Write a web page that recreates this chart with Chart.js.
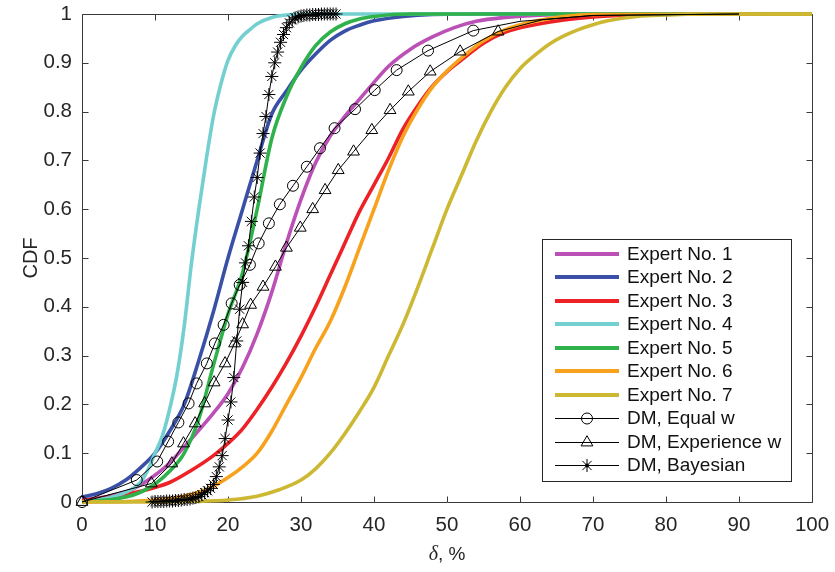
<!DOCTYPE html>
<html><head><meta charset="utf-8">
<script src="https://cdn.jsdelivr.net/npm/chart.js@4.4.1/dist/chart.umd.min.js"></script>
<style>html,body{margin:0;padding:0;background:#fff;}</style>
</head><body>
<canvas id="c" width="835" height="572"></canvas>
<script>
// ---------- data ----------
const xTickLabels = ['0','10','20','30','40','50','60','70','80','90','100'];
const yTickLabels = ['0','0.1','0.2','0.3','0.4','0.5','0.6','0.7','0.8','0.9','1'];
const seriesNames = ['Expert No. 1','Expert No. 2','Expert No. 3','Expert No. 4','Expert No. 5','Expert No. 6','Expert No. 7','DM, Equal w','DM, Experience w','DM, Bayesian'];

const x1 = [0,3,6,8,10,12,14,16,18,20,22,24,26,28,30,32,34,36,38,40,42,45,48,51,54,58,62,66,70,80,100];
const y1 = [0.004,0.01,0.02,0.035,0.055,0.08,0.113,0.147,0.182,0.222,0.276,0.345,0.43,0.53,0.62,0.695,0.75,0.79,0.825,0.86,0.893,0.928,0.953,0.972,0.985,0.993,0.997,0.999,1,1,1];

const x2 = [0,2,4,6,8,10,12,14,16,18,20,22,24,26,28,30,32,34,36,38,40,44,48,55,100];
const y2 = [0.01,0.017,0.028,0.045,0.07,0.1,0.145,0.2,0.29,0.39,0.5,0.6,0.7,0.795,0.842,0.885,0.918,0.946,0.965,0.977,0.986,0.995,0.999,1,1];

const x3 = [0,4,8,12,15,18,20,22,24,26,28,30,32,34,36,38,40,42,44,46,48,50,52,55,58,62,66,70,75,80,100];
const y3 = [0.003,0.01,0.022,0.04,0.065,0.095,0.12,0.15,0.19,0.235,0.285,0.34,0.4,0.465,0.53,0.595,0.65,0.705,0.765,0.812,0.852,0.882,0.906,0.94,0.963,0.978,0.988,0.994,0.998,1,1];

const x4 = [0,2,4,6,8,9,10,11,12,13,14,15,16,17,18,19,20,21,22,23,24,26,28,32,100];
const y4 = [0,0.004,0.01,0.02,0.04,0.065,0.1,0.135,0.19,0.26,0.36,0.49,0.6,0.7,0.79,0.855,0.905,0.935,0.955,0.968,0.98,0.993,0.998,1,1];

const x5 = [0,4,6,8,10,12,14,16,18,20,22,24,26,28,30,32,34,36,38,40,45,100];
const y5 = [0,0.005,0.01,0.02,0.037,0.063,0.1,0.17,0.28,0.385,0.47,0.6,0.745,0.83,0.89,0.935,0.963,0.98,0.99,0.995,1,1];

const x6 = [0,6,10,12,14,16,18,20,22,24,26,28,30,32,34,36,38,40,42,44,46,48,50,52,55,58,62,66,70,100];
const y6 = [0,0.001,0.004,0.007,0.012,0.02,0.032,0.05,0.072,0.1,0.145,0.2,0.255,0.315,0.37,0.44,0.52,0.6,0.68,0.75,0.805,0.85,0.883,0.91,0.945,0.968,0.985,0.995,0.999,1];

const x7 = [0,10,15,20,24,27,30,32,34,36,38,40,42,44,46,48,50,52,54,56,58,60,62,64,66,68,70,72,76,80,85,100];
const y7 = [0,0,0.001,0.004,0.012,0.025,0.045,0.068,0.1,0.14,0.185,0.235,0.3,0.365,0.44,0.52,0.6,0.67,0.74,0.8,0.85,0.888,0.915,0.938,0.955,0.968,0.978,0.986,0.995,0.998,1,1];

const xEq = [0,7.5,10.3,11.8,13.2,14.6,15.7,17.1,18.2,19.4,20.5,21.6,23,24.2,25.6,27.1,28.9,30.8,32.6,34.6,37.4,40.1,43.1,47.4,53.6,60,70,90];
const yEq = [0,0.045,0.083,0.124,0.163,0.202,0.243,0.284,0.325,0.363,0.407,0.445,0.486,0.53,0.571,0.61,0.648,0.687,0.725,0.766,0.805,0.844,0.885,0.925,0.966,0.985,0.997,1];

const xEx = [0,9.5,12.3,13.9,15.5,16.8,18.1,19.6,20.9,22,23.1,24.8,26.5,28,29.9,31.6,33.3,35.1,37.2,39.7,42.2,44.7,47.7,51.8,57,63,70,90];
const yEx = [0,0.038,0.079,0.12,0.161,0.202,0.245,0.284,0.325,0.364,0.404,0.441,0.482,0.521,0.562,0.6,0.639,0.68,0.718,0.762,0.803,0.841,0.882,0.923,0.964,0.988,0.997,1];

const xBy = [9.6,10.0,10.4,10.8,11.2,11.6,12.0,12.4,12.8,13.2,13.6,14.0,14.4,14.8,15.2,15.6,16.0,16.4,16.8,17.2,17.6,18.0,18.4,18.8,19.2,19.6,20.0,20.4,20.8,21.2,21.6,22.0,22.4,22.8,23.2,23.6,24.0,24.4,24.8,25.2,25.6,26.0,26.4,26.8,27.2,27.6,28.0,28.4,28.8,29.2,29.6,30.0,30.4,30.8,31.2,31.6,32.0,32.4,32.8,33.2,33.6,34.0,34.4,34.8];
const yBy = [0,0.001,0.001,0.001,0.001,0.002,0.002,0.002,0.003,0.003,0.004,0.005,0.005,0.006,0.008,0.009,0.011,0.015,0.019,0.023,0.028,0.036,0.052,0.072,0.095,0.13,0.168,0.205,0.255,0.33,0.395,0.45,0.49,0.525,0.575,0.625,0.665,0.715,0.755,0.79,0.835,0.872,0.9,0.922,0.942,0.958,0.972,0.982,0.988,0.992,0.994,0.996,0.997,0.998,0.998,0.999,0.999,0.999,1,1,1,1,1,1];

const markerCount = 25; // visible markers on the two weighted DM curves

// ---------- styles ----------
const expertColors = ['#bb50b6','#3a4fa6','#ec2227','#74cfd0','#2fb24b','#f8a11d','#cdb834'];
const FONT = '"Liberation Sans", Arial, Helvetica, sans-serif';

function pts(xs, ys){ return xs.map((x,i)=>({x:x, y:ys[i]})); }

const expertX = [x1,x2,x3,x4,x5,x6,x7];
const expertY = [y1,y2,y3,y4,y5,y6,y7];

const defs = [];
for (let k=0;k<7;k++){
  defs.push({
    label: seriesNames[k], data: pts(expertX[k], expertY[k]),
    borderColor: expertColors[k], borderWidth: 3.6, pointRadius: 0,
    cubicInterpolationMode: 'monotone', clip: false, fill: false, _marker: null
  });
}
function dm(label, xs, ys, style, r, all){
  return {
    label: label, data: pts(xs, ys), borderColor: '#000', borderWidth: 1,
    pointStyle: style, pointRadius: xs.map((_,i)=> (all || i < markerCount) ? r : 0),
    pointBorderColor: '#000', pointBackgroundColor: 'rgba(0,0,0,0)', pointBorderWidth: 1,
    tension: 0, clip: false, fill: false, _marker: style, _r: r
  };
}
defs.push(dm(seriesNames[7], xEq, yEq, 'circle', 5.5, false));
defs.push(dm(seriesNames[8], xEx, yEx, 'triangle', 6.8, false));
defs.push(dm(seriesNames[9], xBy, yBy, 'star', 6.5, true));

// later series drawn on top (Chart.js draws index 0 last)
const datasets = defs.slice().reverse();

function drawMarker(ctx, style, cx, cy, r){
  ctx.beginPath();
  if (style === 'circle'){
    ctx.arc(cx, cy, r, 0, Math.PI*2);
  } else if (style === 'triangle'){
    let a = 0;
    ctx.moveTo(cx + Math.sin(a)*r, cy - Math.cos(a)*r);
    a += 2*Math.PI/3; ctx.lineTo(cx + Math.sin(a)*r, cy - Math.cos(a)*r);
    a += 2*Math.PI/3; ctx.lineTo(cx + Math.sin(a)*r, cy - Math.cos(a)*r);
    ctx.closePath();
  } else if (style === 'star'){
    for (let j=0;j<4;j++){
      const a = j*Math.PI/4;
      ctx.moveTo(cx - Math.cos(a)*r, cy - Math.sin(a)*r);
      ctx.lineTo(cx + Math.cos(a)*r, cy + Math.sin(a)*r);
    }
  }
  ctx.stroke();
}

const framePlugin = {
  id: 'frame',
  beforeDatasetsDraw(chart){
    const {ctx, chartArea:a, scales} = chart;
    const sx = scales.x, sy = scales.y;
    ctx.save();
    ctx.strokeStyle = '#3a3a3a'; ctx.lineWidth = 1;
    const L = Math.round(a.left)+0.5, R = Math.round(a.right)+0.5, T = Math.round(a.top)+0.5, B = Math.round(a.bottom)+0.5;
    ctx.beginPath();
    ctx.moveTo(L,T); ctx.lineTo(R,T); ctx.lineTo(R,B); ctx.lineTo(L,B); ctx.closePath();
    const tl = 6;
    sx.ticks.forEach(t=>{
      const p = Math.round(sx.getPixelForValue(t.value))+0.5;
      ctx.moveTo(p,B); ctx.lineTo(p,B-tl); ctx.moveTo(p,T); ctx.lineTo(p,T+tl);
    });
    sy.ticks.forEach(t=>{
      const p = Math.round(sy.getPixelForValue(t.value))+0.5;
      ctx.moveTo(L,p); ctx.lineTo(L+tl,p); ctx.moveTo(R,p); ctx.lineTo(R-tl,p);
    });
    ctx.stroke();
    ctx.restore();
  },
  afterDatasetsDraw(chart){
    const {ctx, chartArea:a} = chart;
    ctx.save();
    // x axis title: italic delta + ", %"
    const cx = (a.left + a.right)/2;
    ctx.fillStyle = '#262626';
    ctx.textBaseline = 'alphabetic';
    ctx.font = 'italic 20px "Liberation Serif", "DejaVu Serif", serif';
    const w1 = ctx.measureText('δ').width;
    ctx.font = '19px ' + FONT;
    const w2 = ctx.measureText(', %').width;
    const sx0 = cx - (w1 + w2)/2;
    ctx.font = 'italic 20px "Liberation Serif", "DejaVu Serif", serif';
    ctx.textAlign = 'left';
    ctx.fillText('δ', sx0, 560);
    ctx.font = '19px ' + FONT;
    ctx.fillText(', %', sx0 + w1, 560);

    // legend box
    const bx = 542.5, by = 239.5, bw = 249, bh = 242;
    ctx.fillStyle = '#fff';
    ctx.fillRect(bx, by, bw, bh);
    ctx.strokeStyle = '#262626'; ctx.lineWidth = 1;
    ctx.strokeRect(bx, by, bw, bh);
    ctx.font = '19px ' + FONT;
    ctx.textBaseline = 'middle';
    ctx.textAlign = 'left';
    defs.forEach((d, i)=>{
      const cy = 253.5 + i*23.5;
      ctx.strokeStyle = d.borderColor;
      ctx.lineWidth = d._marker ? 1 : 4;
      ctx.beginPath(); ctx.moveTo(555, Math.round(cy)+(d._marker?0.5:0)); ctx.lineTo(619, Math.round(cy)+(d._marker?0.5:0)); ctx.stroke();
      if (d._marker){
        ctx.lineWidth = 1; ctx.strokeStyle = '#000';
        drawMarker(ctx, d._marker, 587, Math.round(cy)+0.5, d._r);
        if (d._marker === 'star'){ ctx.fillStyle='#000'; ctx.beginPath(); ctx.arc(587, Math.round(cy)+0.5, 2, 0, Math.PI*2); ctx.fill(); }
      }
      ctx.fillStyle = '#111';
      ctx.fillText(d.label, 627, cy + 1);
    });
    ctx.restore();
  }
};

new Chart(document.getElementById('c'), {
  type: 'line',
  data: { datasets: datasets },
  options: {
    responsive: false, animation: false, events: [],
    layout: { padding: { top: 14, right: 23, left: 0, bottom: 0 } },
    plugins: { legend: { display: false }, tooltip: { enabled: false } },
    scales: {
      x: {
        type: 'linear', min: 0, max: 100,
        afterFit(s){ s.height = 70; s.paddingLeft = 0; s.paddingRight = 0; },
        grid: { display: false, drawTicks: false }, border: { display: false },
        ticks: { stepSize: 10, padding: 11, color: '#262626', maxRotation: 0, autoSkip: false,
          font: { family: FONT, size: 20.5 }, callback: (v, i) => xTickLabels[i] }
      },
      y: {
        type: 'linear', min: 0, max: 1,
        afterFit(s){ s.width = 82; s.paddingTop = 0; s.paddingBottom = 0; },
        grid: { display: false, drawTicks: false }, border: { display: false },
        ticks: { stepSize: 0.1, padding: 10, color: '#262626', autoSkip: false,
          font: { family: FONT, size: 20.5 }, callback: (v, i) => yTickLabels[i] },
        title: { display: true, text: 'CDF', color: '#262626', padding: { top: 19, bottom: 0 },
          font: { family: FONT, size: 20 } }
      }
    }
  },
  plugins: [framePlugin]
});
</script>
</body></html>
